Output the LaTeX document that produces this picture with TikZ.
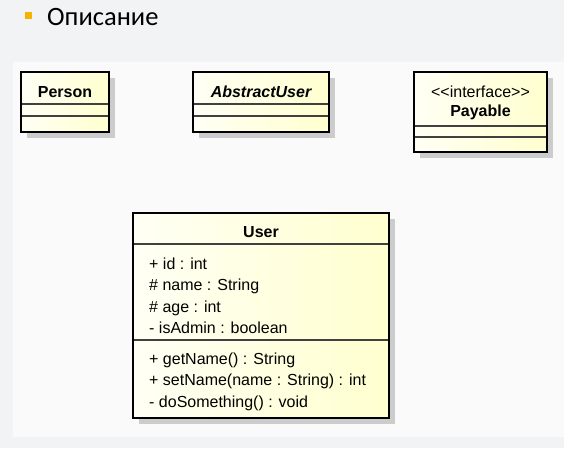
\documentclass[tikz,border=0pt]{standalone}
\usepackage{fontspec}
\setmainfont{Liberation Sans}
\newfontfamily\slidefont{Carlito}
\definecolor{slidebg}{HTML}{F2F3F5}
\definecolor{panelbg}{HTML}{FAFAFA}
\definecolor{bulletcol}{HTML}{F5B400}
\def\classbox(#1,#2)(#3,#4){\fill[black!20] (#1+6,#2+6) rectangle (#3+6,#4+6);
	\fill[left color=yellow!4, right color=yellow!19] (#1,#2) rectangle (#3,#4);}
\def\classborder(#1,#2)(#3,#4){\draw[line width=2.6pt] (#1,#2) rectangle (#3,#4);}

\begin{document}
\begin{tikzpicture}[x=1pt, y=-1pt,
	umltext/.style={inner sep=0pt, font=\fontsize{16}{19}\selectfont},
	classname/.style={umltext, font=\fontsize{16}{19}\selectfont\bfseries},
	member/.style={umltext, anchor=base west},
	divider/.style={line width=1.2pt, color=black!75}]
		%%%%% BACKGROUND %%%%%
		\useasboundingbox (0,0) rectangle (564,448);
		\fill[slidebg] (0,0) rectangle (564,448);
		\fill[panelbg] (13,62) rectangle (564,437);
		
		\fill[bulletcol] (25,12) rectangle (32,19);
		\node[anchor=base west, inner sep=0pt, font=\slidefont\fontsize{26.5}{31}\selectfont] (title) at (47,25) {Описание};
		
		%%%%% CLASSES %%%%%
		\classbox(21,72)(109,132)
		\draw[divider] (21,104) -- (109,104);
		\draw[divider] (21,116) -- (109,116);
		\classborder(21,72)(109,132)
		\node[classname] (person) at (65,92) {Person};
		
		\classbox(193,72)(329,132)
		\draw[divider] (193,104) -- (329,104);
		\draw[divider] (193,116) -- (329,116);
		\classborder(193,72)(329,132)
		\node[classname, font=\fontsize{16}{19}\selectfont\bfseries\itshape] (abstractuser) at (261,92) {AbstractUser};
		
		\classbox(414,72)(547,152)
		\draw[divider] (414,126) -- (547,126);
		\draw[divider] (414,137) -- (547,137);
		\classborder(414,72)(547,152)
		\node[umltext] (stereo) at (480.5,92) {<\kern0pt<interface>\kern0pt>};
		\node[classname] (payable) at (480.5,112) {Payable};
		
		\classbox(133,213)(389,418)
		\draw[divider] (133,244) -- (389,244);
		\draw[divider] (133,340) -- (389,340);
		\classborder(133,213)(389,418)
		\node[classname] (user) at (261,232) {User};
		
		\node[member] (id) at (149,269) {+ id : int};
		\node[member] (name) at (149,290.5) {\# name : String};
		\node[member] (age) at (149,312) {\# age : int};
		\node[member] (isadmin) at (149,333.5) {- isAdmin : boolean};
		
		\node[member] (getname) at (149,364) {+ getName() : String};
		\node[member] (setname) at (149,385.5) {+ setName(name : String) : int};
		\node[member] (dosomething) at (149,407) {- doSomething() : void};
		
		%%%%% END %%%%%
\end{tikzpicture}
\end{document}
